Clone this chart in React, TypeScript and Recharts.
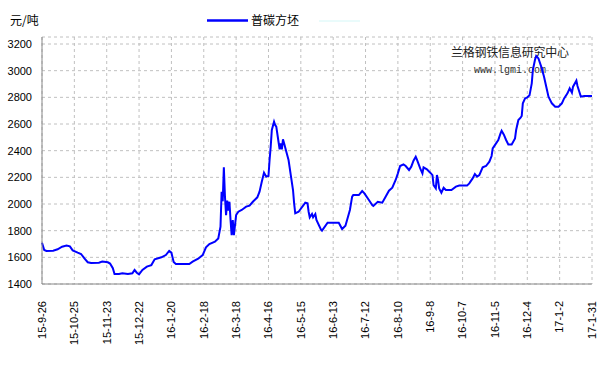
import React from "react";
import { LineChart, Line, XAxis, YAxis, CartesianGrid, Customized } from "recharts";

const tickLabels = [
  "15-9-26", "15-10-25", "15-11-23", "15-12-22", "16-1-20", "16-2-18", "16-3-18", "16-4-16", "16-5-15",
  "16-6-13", "16-7-12", "16-8-10", "16-9-8", "16-10-7", "16-11-5", "16-12-4", "17-1-2", "17-1-31",
];
const tickDays = tickLabels.map((_, i) => i * 29);
const yTicks = [1400, 1600, 1800, 2000, 2200, 2400, 2600, 2800, 3000, 3200];

const dayIndex = [
  0, 2, 4, 10, 14, 18, 22, 25, 27.5, 32, 35, 38, 41, 44, 51, 54, 59, 61, 63.5, 65, 69, 72, 77, 81, 83, 85, 87, 90,
  94, 98, 101, 107, 111, 114, 116, 118, 120, 132, 135, 140, 144, 147, 150, 155, 158, 160, 161, 162, 163, 164,
  165, 166, 167, 168, 169, 170, 171, 172, 174, 176, 179, 183, 186, 189, 193, 195, 197, 199, 201, 203, 204, 205,
  206, 208, 209, 210, 212, 213, 214, 215, 216, 217, 219, 221, 223, 225, 226, 227, 230, 236, 238, 239, 240, 242,
  243, 245, 246, 250, 251, 256, 266, 269, 272, 276, 278, 279, 284, 287, 289, 293, 296, 297, 301, 305, 308, 311,
  314, 317, 319, 321, 324, 326, 329, 331, 333, 335, 336, 339, 341, 342, 345, 348, 350, 351, 353, 354, 355, 356,
  358, 360, 362, 367, 371, 374, 381, 383, 386, 388, 390, 392, 395, 398, 401, 403, 404, 407, 409, 411, 412, 414,
  416, 418, 421, 424, 425, 427, 429, 430, 431, 433, 435, 437, 439, 440, 442, 443, 445, 448, 450, 452, 454, 457,
  460, 463, 466, 468, 471, 473, 475, 476, 479, 480, 483, 486, 493,
];
const price = [
  1710, 1655, 1648, 1650, 1660, 1680, 1688, 1682, 1652, 1635, 1625, 1592, 1563, 1558, 1560, 1568, 1563, 1553,
  1518, 1475, 1475, 1480, 1475, 1480, 1505, 1485, 1472, 1505, 1530, 1542, 1585, 1600, 1617, 1648, 1635, 1565,
  1550, 1550, 1568, 1590, 1617, 1675, 1700, 1717, 1742, 1830, 2092, 2020, 2275, 2055, 1917, 2025, 1950, 2017,
  1880, 1767, 1880, 1767, 1917, 1942, 1955, 1980, 1988, 2017, 2050, 2092, 2167, 2235, 2205, 2210, 2330, 2430,
  2555, 2617, 2592, 2580, 2467, 2410, 2455, 2410, 2485, 2455, 2392, 2330, 2217, 2105, 2005, 1930, 1942, 2010,
  2005, 1942, 1900, 1925, 1900, 1925, 1880, 1810, 1800, 1860, 1860, 1812, 1837, 1955, 2055, 2067, 2067, 2097,
  2080, 2030, 1992, 1985, 2017, 2010, 2055, 2100, 2122, 2180, 2230, 2285, 2297, 2285, 2255, 2280, 2325, 2355,
  2335, 2267, 2230, 2275, 2260, 2235, 2217, 2142, 2117, 2217, 2180, 2117, 2085, 2122, 2105, 2105, 2130, 2138,
  2138, 2155, 2192, 2225, 2205, 2217, 2275, 2285, 2317, 2360, 2417, 2455, 2480, 2530, 2550, 2520, 2480, 2447,
  2447, 2492, 2555, 2630, 2647, 2660, 2755, 2792, 2800, 2815, 2905, 3005, 3085, 3110, 3092, 3017, 2955, 2880,
  2805, 2755, 2730, 2730, 2755, 2792, 2830, 2867, 2835, 2880, 2925, 2885, 2805, 2810, 2810,
];

const data = dayIndex.map((d, i) => ({ day: d, v: price[i] }));

const FONT = "'Liberation Sans', 'Noto Sans CJK SC', sans-serif";
const CJK = "'Noto Sans CJK SC', sans-serif";

const XTick = (props: any) => {
  const { x, y, payload } = props;
  const idx = tickDays.indexOf(payload.value);
  const label = idx >= 0 ? tickLabels[idx] : "";
  return (
    <text
      x={x}
      y={y + 9}
      dy="0.35em"
      transform={`rotate(-90, ${x}, ${y + 9})`}
      textAnchor="end"
      fontSize={11}
      fontFamily={FONT}
      fill="#000"
    >
      {label}
    </text>
  );
};

const Overlay = () => (
  <g>
    <text x={10} y={25} fontSize={12} fontFamily={CJK} fill="#000">元/吨</text>
    <line x1={207} y1={20.5} x2={248} y2={20.5} stroke="#0000ff" strokeWidth={2.5} />
    <text x={251} y={25} fontSize={12} fontFamily={CJK} fill="#000">普碳方坯</text>
    <line x1={319} y1={21} x2={360} y2={21} stroke="#d4f7f7" strokeWidth={1} />
    <text x={451} y={57} fontSize={12} fontFamily={CJK} fill="#222" textLength={118}>兰格钢铁信息研究中心</text>
    <text x={474} y={72.5} fontSize={10} fontFamily="'Liberation Mono', monospace" fill="#333">www.lgmi.com</text>
  </g>
);

export default function App() {
  return (
    <div style={{ position: "absolute", left: 0, top: 0, width: 606, height: 380, background: "#fff" }}>
      <LineChart width={606} height={380} data={data} margin={{ top: 37, right: 14, bottom: 0, left: 0 }}>
        <CartesianGrid stroke="#c0c0c0" strokeDasharray="3 3" />
        <XAxis
          dataKey="day"
          type="number"
          domain={[0, 493]}
          ticks={tickDays}
          interval={0}
          height={96}
          tick={<XTick />}
          tickLine={false}
          axisLine={{ stroke: "#888" }}
        />
        <YAxis
          type="number"
          domain={[1400, 3252.5]}
          ticks={yTicks}
          interval={0}
          width={42}
          tickLine={false}
          tickMargin={4}
          axisLine={{ stroke: "#888" }}
          tick={{ fontSize: 11, fontFamily: FONT, fill: "#000" }}
          allowDataOverflow
        />
        <Customized component={Overlay} />
        <Line
          type="linear"
          dataKey="v"
          stroke="#0000ff"
          strokeWidth={2}
          dot={false}
          isAnimationActive={false}
        />
      </LineChart>
    </div>
  );
}
